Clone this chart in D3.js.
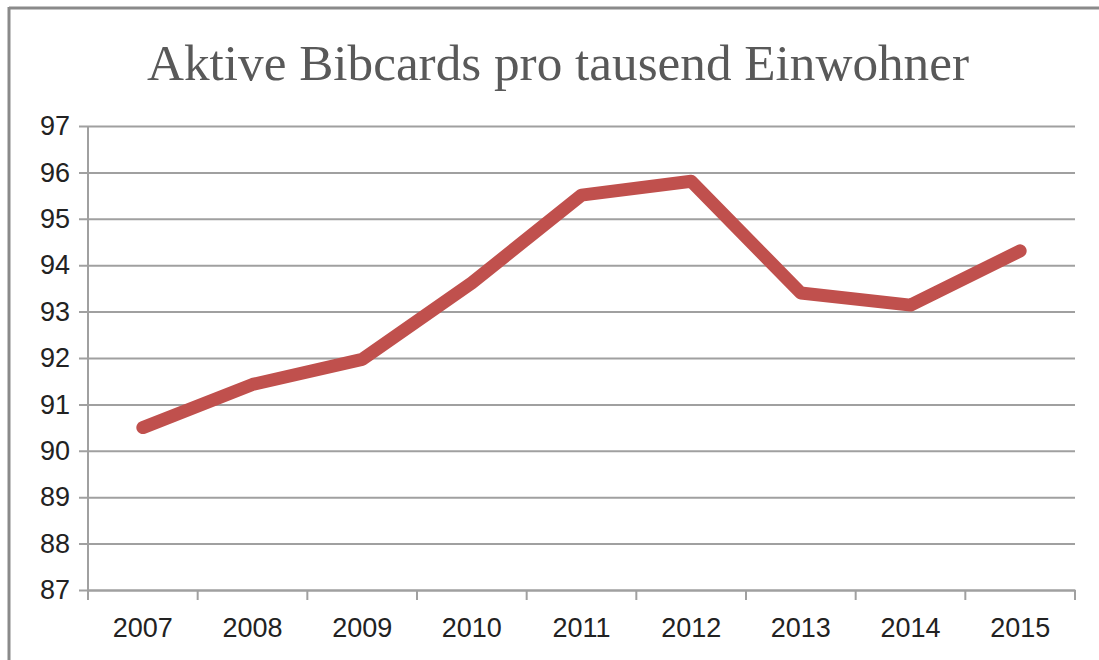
<!DOCTYPE html>
<html>
<head>
<meta charset="utf-8">
<script src="https://cdn.jsdelivr.net/npm/d3@7"></script>
<style>
  body { margin: 0; background: #fff; }
</style>
</head>
<body>
<div class="chart"></div>
<script>
// chart data
const years = ["2007", "2008", "2009", "2010", "2011", "2012", "2013", "2014", "2015"];
const values = [90.5, 91.43, 91.97, 93.62, 95.51, 95.81, 93.4, 93.14, 94.31];
const yTicks = [87, 88, 89, 90, 91, 92, 93, 94, 95, 96, 97];
const title = "Aktive Bibcards pro tausend Einwohner";

// size of the chart
const w = 1099, h = 660;
const margin = { top: 126, right: 24, bottom: 70, left: 88 };

const svg = d3.select("div.chart")
    .append("svg")
    .attr("width", w)
    .attr("height", h);

// frame lines (top and left only visible)
svg.append("line")
    .attr("x1", 9).attr("x2", w).attr("y1", 8).attr("y2", 8)
    .attr("stroke", "#8a8a8a").attr("stroke-width", 3);
svg.append("line")
    .attr("x1", 9).attr("x2", 9).attr("y1", 7).attr("y2", h)
    .attr("stroke", "#8a8a8a").attr("stroke-width", 3);

// scales
const xScale = d3.scaleBand()
    .domain(years)
    .range([margin.left, w - margin.right]);

const yScale = d3.scaleLinear()
    .domain([87, 97])
    .range([h - margin.bottom, margin.top]);

// gridlines + y labels
const yAxis = d3.axisLeft(yScale)
    .tickValues(yTicks)
    .tickSize(-(w - margin.right - margin.left))
    .tickPadding(18)
    .tickFormat(d3.format("d"));

const gy = svg.append("g")
    .attr("transform", "translate(" + margin.left + ",0)")
    .call(yAxis);
gy.select(".domain").remove();
gy.selectAll(".tick line")
    .attr("x1", -9)
    .attr("stroke", "#a0a0a0")
    .attr("stroke-width", 2);
gy.selectAll(".tick text")
    .attr("font-family", "Liberation Sans, Arial, sans-serif")
    .attr("font-size", 27)
    .attr("fill", "#222");

// y axis line
svg.append("line")
    .attr("x1", margin.left).attr("x2", margin.left)
    .attr("y1", yScale(97)).attr("y2", yScale(87) + 10)
    .attr("stroke", "#a0a0a0").attr("stroke-width", 2);

// x axis
const gx = svg.append("g")
    .attr("transform", "translate(0," + yScale(87) + ")")
    .call(d3.axisBottom(xScale).tickSize(0).tickPadding(28));
gx.select(".domain")
    .attr("stroke", "#a0a0a0").attr("stroke-width", 2);
gx.selectAll(".tick text")
    .attr("font-family", "Liberation Sans, Arial, sans-serif")
    .attr("font-size", 27)
    .attr("fill", "#222");

// x tick marks on category boundaries
const bounds = years.map(d => xScale(d)).concat([xScale.range()[1]]);
gx.selectAll("line.bound")
    .data(bounds)
    .enter()
    .append("line")
    .attr("class", "bound")
    .attr("x1", d => d).attr("x2", d => d)
    .attr("y1", 0).attr("y2", 10)
    .attr("stroke", "#a0a0a0").attr("stroke-width", 2);

// the line
const line = d3.line()
    .x((d, i) => xScale(years[i]) + xScale.bandwidth() / 2)
    .y(d => yScale(d));

svg.append("path")
    .datum(values)
    .attr("d", line)
    .attr("fill", "none")
    .attr("stroke", "#C0504D")
    .attr("stroke-width", 13)
    .attr("stroke-linecap", "round")
    .attr("stroke-linejoin", "round");

// title
svg.append("text")
    .attr("x", 558)
    .attr("y", 80)
    .attr("text-anchor", "middle")
    .attr("font-family", "Liberation Serif, Times New Roman, serif")
    .attr("font-size", 50)
    .attr("fill", "#595959")
    .attr("textLength", 822)
    .attr("lengthAdjust", "spacingAndGlyphs")
    .text(title);
</script>
</body>
</html>
